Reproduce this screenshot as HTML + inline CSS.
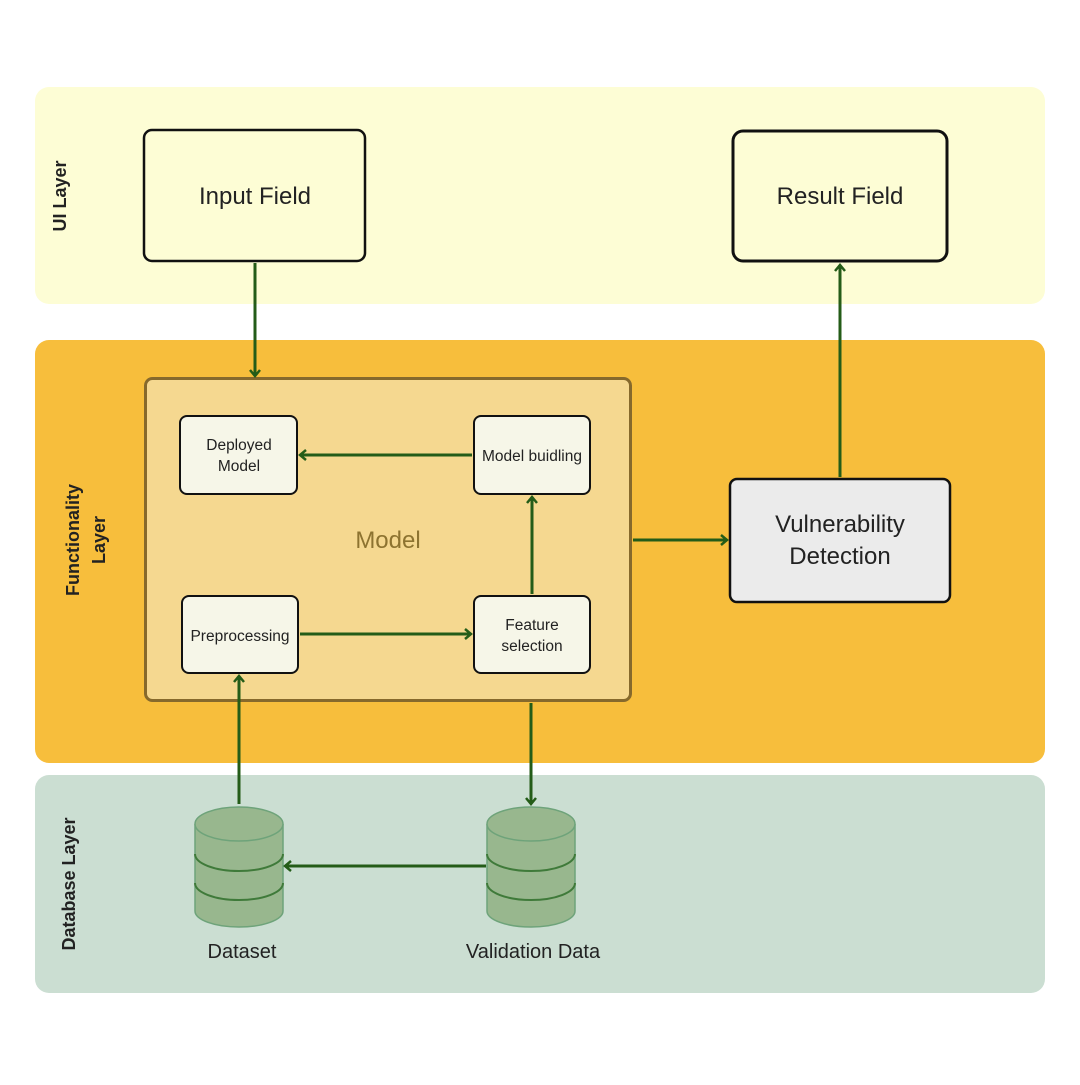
<!DOCTYPE html>
<html><head><meta charset="utf-8"><style>
body{margin:0;background:#fff}
text{font-family:"Liberation Sans",sans-serif}
</style></head><body>
<svg width="1080" height="1080" viewBox="0 0 1080 1080" xmlns="http://www.w3.org/2000/svg">
<defs>
<marker id="a" markerWidth="14" markerHeight="14" refX="9" refY="7" orient="auto" markerUnits="userSpaceOnUse">
<path d="M3,2 L9,7 L3,12" fill="none" stroke="#245c18" stroke-width="2.5"/>
</marker>
<g id="cyl">
<path d="M0,18 L0,105 A44,16 0 0 0 88,105 L88,18" fill="#98b78e" stroke="#6ea37a" stroke-width="1.5"/>
<ellipse cx="44" cy="18" rx="44" ry="17" fill="#98b78e" stroke="#6ea37a" stroke-width="1.5"/>
<path d="M0,48 A44,17 0 0 0 88,48" fill="none" stroke="#3f7a3a" stroke-width="2"/>
<path d="M0,77 A44,17 0 0 0 88,77" fill="none" stroke="#3f7a3a" stroke-width="2"/>
</g>
</defs>
<rect x="35" y="87" width="1010" height="217" rx="14" fill="#fdfdd5"/>
<rect x="35" y="340" width="1010" height="423" rx="14" fill="#f7be3c"/>
<rect x="35" y="775" width="1010" height="218" rx="14" fill="#cbded2"/>
<text transform="translate(66,196) rotate(-90)" text-anchor="middle" font-size="18" font-weight="bold" fill="#222">UI Layer</text>
<text transform="translate(79,540) rotate(-90)" text-anchor="middle" font-size="18" font-weight="bold" fill="#222">Functionality</text>
<text transform="translate(105,540) rotate(-90)" text-anchor="middle" font-size="18" font-weight="bold" fill="#222">Layer</text>
<text transform="translate(75,884) rotate(-90)" text-anchor="middle" font-size="18" font-weight="bold" fill="#222">Database Layer</text>

<rect x="144" y="130" width="221" height="131" rx="8" fill="#fdfdd5" stroke="#111" stroke-width="2.5"/>
<text x="255" y="204" text-anchor="middle" font-size="24" fill="#222">Input Field</text>
<rect x="733" y="131" width="214" height="130" rx="10" fill="#fdfdd5" stroke="#111" stroke-width="3"/>
<text x="840" y="204" text-anchor="middle" font-size="24" fill="#222">Result Field</text>

<rect x="145.5" y="378.5" width="485" height="322" rx="7" fill="#f5d890" stroke="#86692c" stroke-width="3"/>
<text x="388" y="548" text-anchor="middle" font-size="24" fill="#8d7330">Model</text>

<g fill="#f6f6e8" stroke="#111" stroke-width="2">
<rect x="180" y="416" width="117" height="78" rx="7"/>
<rect x="474" y="416" width="116" height="78" rx="7"/>
<rect x="182" y="596" width="116" height="77" rx="7"/>
<rect x="474" y="596" width="116" height="77" rx="7"/>
</g>
<g font-size="15.5" fill="#222" text-anchor="middle">
<text x="239" y="450">Deployed</text><text x="239" y="471">Model</text>
<text x="532" y="461">Model buidling</text>
<text x="240" y="641">Preprocessing</text>
<text x="532" y="630">Feature</text><text x="532" y="651">selection</text>
</g>
<rect x="730" y="479" width="220" height="123" rx="7" fill="#ebebeb" stroke="#111" stroke-width="2.5"/>
<text x="840" y="532" text-anchor="middle" font-size="24" fill="#222">Vulnerability</text>
<text x="840" y="564" text-anchor="middle" font-size="24" fill="#222">Detection</text>

<use href="#cyl" x="195" y="806"/>
<use href="#cyl" x="487" y="806"/>
<text x="242" y="958" text-anchor="middle" font-size="20" fill="#222">Dataset</text>
<text x="533" y="958" text-anchor="middle" font-size="20" fill="#222">Validation Data</text>

<g stroke="#245c18" stroke-width="3" fill="none" marker-end="url(#a)">
<line x1="255" y1="263" x2="255" y2="376"/>
<line x1="840" y1="477" x2="840" y2="265"/>
<line x1="472" y1="455" x2="300" y2="455"/>
<line x1="532" y1="594" x2="532" y2="497"/>
<line x1="300" y1="634" x2="471" y2="634"/>
<line x1="633" y1="540" x2="727" y2="540"/>
<line x1="239" y1="804" x2="239" y2="676"/>
<line x1="531" y1="703" x2="531" y2="804"/>
<line x1="486" y1="866" x2="285" y2="866"/>
</g>
</svg>
</body></html>
